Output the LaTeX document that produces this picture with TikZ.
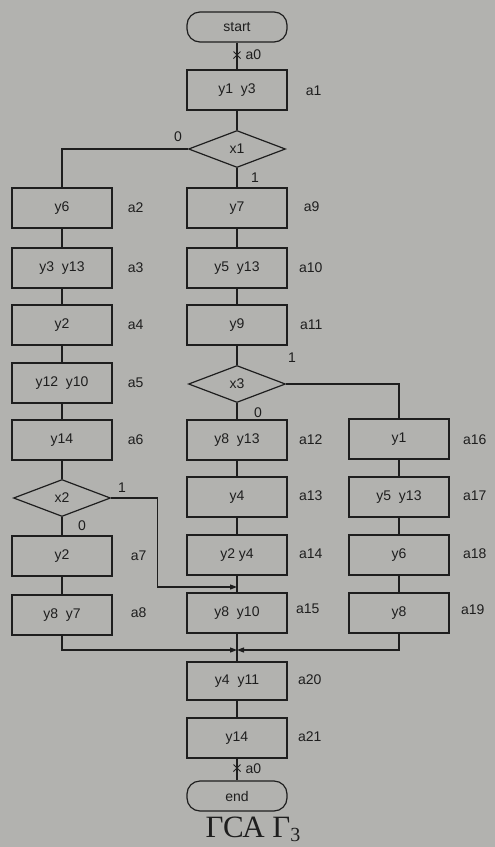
\documentclass[tikz,border=0pt]{standalone}
\usepackage{fontspec}
\setmainfont{Liberation Serif}
\setsansfont{Liberation Sans}
\usetikzlibrary{shapes.geometric,arrows.meta}
\definecolor{paper}{RGB}{178,178,175}
\definecolor{ink}{RGB}{30,30,30}

\begin{document}
\begin{tikzpicture}
    [x = 1pt, y = -1pt, line width = 1.2pt, draw = ink, text = ink,
     every node/.style = {font = \sffamily\fontsize{14}{16}\selectfont},
     blok/.style = {rectangle, draw = ink, minimum width = 100pt, minimum height = 40pt, inner sep = 0pt},
     cond/.style = {diamond, draw = ink, minimum width = 97pt, minimum height = 37pt, inner sep = 0pt},
     term/.style = {rectangle, rounded corners = 13pt, draw = ink, minimum width = 100pt, minimum height = 30pt, inner sep = 0pt},
     lbl/.style = {anchor = east, inner sep = 0pt},
     bit/.style = {inner sep = 0pt},
     arr/.style = {-{Triangle[length = 7pt, width = 5pt]}}]
    \fill[paper] (0,0) rectangle (495,847);
    % terminals
    \node[term] (start) at (237,27) {start};
    \node[term] (stop) at (237,796) {end};
    % conditions
    \node[cond] (x1) at (237,149) {x1};
    \node[cond] (x2) at (62,498) {x2};
    \node[cond] (x3) at (237,384) {x3};
    % operator boxes
    \node[blok] (a1) at (237,90) {y1\ \ y3};
    \node[blok] (a2) at (62,208) {y6};
    \node[blok] (a3) at (62,268) {y3\ \ y13};
    \node[blok] (a4) at (62,325) {y2};
    \node[blok] (a5) at (62,383) {y12\ \ y10};
    \node[blok] (a6) at (62,440) {y14};
    \node[blok] (a7) at (62,556) {y2};
    \node[blok] (a8) at (62,615) {y8\ \ y7};
    \node[blok] (a9) at (237,208) {y7};
    \node[blok] (a10) at (237,268) {y5\ \ y13};
    \node[blok] (a11) at (237,325) {y9};
    \node[blok] (a12) at (237,440) {y8\ \ y13};
    \node[blok] (a13) at (237,497) {y4};
    \node[blok] (a14) at (237,555) {y2 y4};
    \node[blok] (a15) at (237,613) {y8\ \ y10};
    \node[blok] (a16) at (399,439) {y1};
    \node[blok] (a17) at (399,497) {y5\ \ y13};
    \node[blok] (a18) at (399,555) {y6};
    \node[blok] (a19) at (399,613) {y8};
    \node[blok, minimum height = 38pt] (a20) at (237,681) {y4\ \ y11};
    \node[blok] (a21) at (237,738) {y14};
    % state marks
    \foreach \n/\x/\y in {1/322/91, 2/144/208, 3/144/268, 4/144/325, 5/144/383, 6/144/440,
                          7/147/556, 8/147/613, 9/320/207, 10/323/268, 11/323/325,
                          12/323/440, 13/323/496, 14/323/554, 15/320/609, 16/487/440,
                          17/487/496, 18/487/554, 19/485/610, 20/322/680, 21/322/737}
      \node[lbl] (m\n) at (\x,\y) {a\n};
    % branch values
    \node[bit] (x1o) at (178,137) {0};
    \node[bit] (x1i) at (255,178) {1};
    \node[bit] (x2i) at (122,488) {1};
    \node[bit] (x2o) at (82,526) {0};
    \node[bit] (x3i) at (292,358) {1};
    \node[bit] (x3o) at (258,413) {0};
    % plain links
    \foreach \from/ \to in {start/a1, a1/x1, x1/a9, a9/a10, a10/a11, a11/x3, x3/a12, a12/a13,
                            a13/a14, a14/a15, a15/a20, a20/a21, a21/stop,
                            a2/a3, a3/a4, a4/a5, a5/a6, a6/x2, x2/a7, a7/a8,
                            a16/a17, a17/a18, a18/a19}
      \draw (\from) -- (\to);
    \draw (x1.west) -| (a2.north);
    \draw (x3.east) -| (a16.north);
    % joins
    \coordinate (j1) at (237,587);
    \coordinate (j2) at (237,650);
    \draw[arr] (x2.east) -- ++(46,0) |- (j1);
    \draw[arr] (a8.south) |- (j2);
    \draw[arr] (a19.south) |- (j2);
    % a0 marks
    \coordinate (c1) at (237,55);
    \coordinate (c2) at (237,768);
    \foreach \c in {c1,c2}
      \draw[line width = 1pt] (\c) ++(-3.5,-3.5) -- ++(7,7) ++(0,-7) -- ++(-7,7);
    \node[anchor = west, inner sep = 0pt] (s1) at (245,55) {a0};
    \node[anchor = west, inner sep = 0pt] (s2) at (245,769) {a0};
    % caption
    \node[font = \rmfamily\fontsize{31}{33}\selectfont, anchor = base west, inner sep = 0pt] (cap) at (205,837)
      {ГСА Г\raisebox{-4pt}{\fontsize{20}{22}\selectfont 3}};
\end{tikzpicture}
\end{document}
